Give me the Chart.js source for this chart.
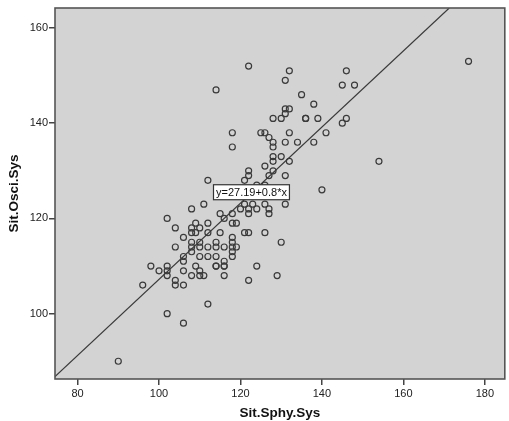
<!DOCTYPE html>
<html><head><meta charset="utf-8">
<script src="https://cdn.jsdelivr.net/npm/chart.js@4.4.0/dist/chart.umd.min.js"></script>
<style>html,body{margin:0;padding:0;background:#fff;}#wrap{width:509px;height:421px;}</style>
</head><body><div id="wrap"><canvas id="c" width="509" height="421"></canvas></div>
<script>
// Sit.Sphy.Sys (x) and Sit.Osci.Sys (y)
const sphySys = [176, 122, 132,146, 131, 145,148, 114, 135, 138, 131,132, 131,
  128,130,136,136,139,146, 145, 118,125,126,132,141, 127, 128,131,134,138, 118,128,
  128,130, 128,132,154, 126, 122,128, 122,127,131, 112,121, 124,126, 140,
  111,121,123,126,131, 108,120,122,124,127, 115,118,122,127, 102,116, 109,112,118,119,
  104,108,110, 108,109,112,115,121,122,126, 106,118, 108,110,114,118,130,
  104,108,110,112,114,116,118,119, 108,118, 106,110,112,114,118, 106,116,
  98,102,109,114,114,116,116,124, 100,102,106,110, 102,108,110,111,116,129,
  104,122, 96,104,106, 112, 102, 106, 90];
const osciSys = [153,152,151,151,149,148,148,147,146,144,143,143,142,
  141,141,141,141,141,141,140,138,138,138,138,138,137,136,136,136,136,135,135,
  133,133,132,132,132,131,130,130,129,129,129,128,128,127,127,126,
  123,123,123,123,123,122,122,122,122,122,121,121,121,121,120,120,119,119,119,119,
  118,118,118,117,117,117,117,117,117,117,116,116,115,115,115,115,115,
  114,114,114,114,114,114,114,114,113,113,112,112,112,112,112,111,111,
  110,110,110,110,110,110,110,110,109,109,109,109,108,108,108,108,108,108,
  107,107,106,106,106,102,100,98,90];
const xTicks = [80, 100, 120, 140, 160, 180];
const yTicks = [100, 120, 140, 160];
const xRange = [74.46, 184.9];
const yRange = [86.27, 164.2];
const fitIntercept = 27.19;
const fitSlope = 0.8;
const fitLabel = 'y=27.19+0.8*x';
const labelAnchor = [122.7, 125.5];
const xTitle = 'Sit.Sphy.Sys';
const yTitle = 'Sit.Osci.Sys';

const points = sphySys.map((x, i) => ({x: x, y: osciSys[i]}));
const fitStartX = xRange[0];
const fitEndX = Math.min(xRange[1], (yRange[1] - fitIntercept) / fitSlope);
const fitLine = [
  {x: fitStartX, y: fitIntercept + fitSlope * fitStartX},
  {x: fitEndX, y: fitIntercept + fitSlope * fitEndX}
];

const frame = {
  id: 'frame',
  beforeDraw(chart) {
    const {ctx, chartArea: a} = chart;
    ctx.save();
    ctx.fillStyle = '#d3d3d3';
    ctx.fillRect(a.left, a.top, a.right - a.left, a.bottom - a.top);
    ctx.restore();
  },
  afterDraw(chart) {
    const {ctx, chartArea: a, scales} = chart;
    ctx.save();
    ctx.strokeStyle = '#555';
    ctx.lineWidth = 1.6;
    ctx.strokeRect(a.left, a.top, a.right - a.left, a.bottom - a.top);
    // equation label
    const cx = scales.x.getPixelForValue(labelAnchor[0]);
    const cy = scales.y.getPixelForValue(labelAnchor[1]);
    ctx.font = '11px "Liberation Sans", Arial, sans-serif';
    const w = ctx.measureText(fitLabel).width + 5;
    const h = 15;
    ctx.fillStyle = '#fff';
    ctx.fillRect(cx - w / 2, cy - h / 2, w, h);
    ctx.strokeStyle = '#333';
    ctx.lineWidth = 1.2;
    ctx.strokeRect(cx - w / 2, cy - h / 2, w, h);
    ctx.fillStyle = '#111';
    ctx.textAlign = 'center';
    ctx.textBaseline = 'middle';
    ctx.fillText(fitLabel, cx, cy + 0.5);
    ctx.restore();
  }
};

const tickFont = {family: '"Liberation Sans", Arial, sans-serif', size: 11};
const titleFont = {family: '"Liberation Sans", Arial, sans-serif', size: 13.5, weight: 'bold'};

new Chart(document.getElementById('c'), {
  type: 'scatter',
  data: {
    datasets: [
      {
        data: fitLine, showLine: true, pointRadius: 0, borderColor: '#3a3a3a',
        borderWidth: 1.2, fill: false, order: 2
      },
      {
        data: points, pointRadius: 3, pointHoverRadius: 3, pointBorderWidth: 1.2,
        borderColor: '#3a3a3a', backgroundColor: 'rgba(0,0,0,0)', pointStyle: 'circle', order: 1
      }
    ]
  },
  options: {
    responsive: false, animation: false, devicePixelRatio: 1,
    layout: {padding: {left: 0, right: 1, top: 8, bottom: 0}},
    plugins: {legend: {display: false}, tooltip: {enabled: false}},
    scales: {
      x: {
        type: 'linear', min: xRange[0], max: xRange[1],
        afterBuildTicks(s) { s.ticks = xTicks.map(v => ({value: v})); },
        afterFit(s) { s.height = 42; },
        grid: {drawOnChartArea: false, drawTicks: true, tickLength: 6, color: '#444', lineWidth: 1.5},
        border: {display: false},
        ticks: {font: tickFont, color: '#222', padding: 2, maxRotation: 0, autoSkip: false},
        title: {display: true, text: xTitle, font: titleFont, color: '#111', padding: {top: 0, bottom: 0}}
      },
      y: {
        type: 'linear', min: yRange[0], max: yRange[1],
        afterBuildTicks(s) { s.ticks = yTicks.map(v => ({value: v})); },
        afterFit(s) { s.width = 55; },
        grid: {drawOnChartArea: false, drawTicks: true, tickLength: 6, color: '#444', lineWidth: 1.5},
        border: {display: false},
        ticks: {font: tickFont, color: '#222', padding: 1, autoSkip: false},
        title: {display: true, text: yTitle, font: titleFont, color: '#111', padding: {top: 6, bottom: 0}}
      }
    }
  },
  plugins: [frame]
});
</script></body></html>
